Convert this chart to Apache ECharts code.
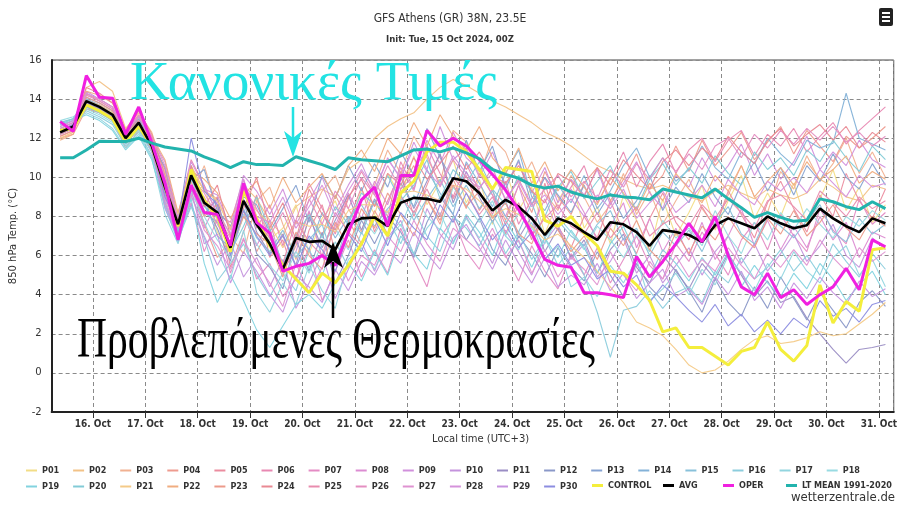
<!DOCTYPE html>
<html><head><meta charset="utf-8">
<script src="https://cdn.jsdelivr.net/npm/echarts@6/dist/echarts.min.js"></script>
<style>html,body{margin:0;padding:0;background:#fff}#c{width:900px;height:506px}</style>
</head><body><div id="c"></div>
<script>
// ---- data ----
const initTime = '2024-10-15T00:00Z';
const stepHours = 6, nSteps = 64, utcOffset = 3;
const memberNames = ['P01','P02','P03','P04','P05','P06','P07','P08','P09','P10','P11','P12','P13','P14','P15','P16','P17','P18','P19','P20','P21','P22','P23','P24','P25','P26','P27','P28','P29','P30'];
const P01=[12.1,12.4,13.7,13.5,13.1,11.8,12.6,11.5,10.3,7.8,9.1,9.6,7.2,6.1,8.0,8.9,6.8,7.4,8.6,6.1,7.9,8.8,7.0,9.4,8.1,10.2,9.0,11.1,8.6,9.8,10.9,8.7,9.9,7.6,10.4,8.3,9.5,7.1,8.8,9.9,7.4,8.5,6.6,9.1,7.8,6.2,8.9,7.0,8.2,9.6,7.3,8.8,10.1,7.9,9.2,8.0,9.7,7.6,8.9,10.4,8.3,9.5,7.7,8.6];
const P02=[12.0,12.3,14.6,14.9,14.4,12.5,13.3,12.3,10.2,7.9,10.6,9.3,8.9,7.3,9.6,8.9,7.8,7.0,8.5,9.0,9.4,9.0,10.4,10.9,12.0,12.6,13.0,13.3,14.0,14.6,15.0,14.7,14.3,13.9,13.6,13.2,12.8,12.3,12.0,11.6,11.1,10.6,10.3,9.9,9.6,9.4,9.6,9.3,9.0,8.8,9.3,9.6,9.2,8.9,9.4,9.1,8.9,9.2,9.9,9.5,9.0,8.8,9.6,9.4];
const P03=[12.2,12.5,14.2,14.0,13.6,12.3,12.9,11.8,9.1,7.2,9.0,10.6,8.4,7.0,6.1,8.8,9.5,7.6,5.8,7.9,9.3,10.1,8.4,7.2,9.6,11.4,10.2,12.1,11.0,9.7,12.4,11.8,10.1,12.0,11.3,9.6,10.8,9.2,8.3,10.1,9.0,7.7,8.6,10.2,8.1,9.3,7.6,8.8,9.9,8.4,7.5,9.1,10.6,9.0,8.2,10.3,9.4,11.1,9.8,10.7,12.0,10.2,11.3,10.0];
const P04=[12.0,12.2,13.5,13.3,12.9,11.5,12.4,11.3,8.7,7.0,9.8,7.6,5.9,6.8,8.3,6.2,7.4,5.1,6.5,8.2,7.0,9.1,7.8,6.6,8.3,7.1,9.4,10.6,8.9,7.6,9.9,8.4,10.2,9.1,7.8,9.6,8.2,10.3,9.0,8.1,9.7,10.5,8.8,9.9,11.2,9.4,10.1,11.6,10.3,11.9,10.6,11.4,12.3,10.9,11.8,12.6,11.2,12.4,11.6,10.8,12.1,11.5,12.0,12.6];
const P05=[12.4,12.7,14.0,13.7,13.3,12.1,12.9,11.7,9.9,7.5,9.4,8.1,9.0,5.4,7.2,9.1,5.9,6.8,4.7,7.3,8.6,6.2,7.7,9.5,7.2,8.8,10.3,8.0,9.6,11.2,8.9,10.1,8.3,9.4,7.1,8.6,6.8,9.7,7.5,6.4,8.0,6.9,8.8,7.2,6.1,7.9,9.2,7.7,6.8,8.5,7.4,9.3,8.1,6.9,8.7,9.8,8.4,7.2,9.1,8.0,10.2,8.8,7.9,9.4];
const P06=[12.5,12.8,14.3,13.9,13.5,12.2,13.1,11.9,10.4,8.1,10.9,9.6,8.1,7.7,9.9,7.4,8.6,6.5,7.8,9.7,8.4,7.1,8.9,10.3,9.1,8.0,10.8,9.4,11.6,10.2,9.0,10.7,9.3,8.1,9.8,7.6,8.9,10.0,8.4,9.5,10.6,8.7,9.9,11.3,9.5,10.8,11.7,10.2,11.4,12.0,10.8,11.9,12.4,11.1,12.2,11.6,12.5,11.3,12.1,12.8,11.7,12.4,13.0,13.6];
const P07=[12.3,12.6,13.8,13.5,13.1,11.9,12.7,11.5,9.0,7.3,8.7,6.2,7.9,5.1,6.9,4.8,5.6,3.9,4.8,6.4,3.7,5.2,6.8,4.9,6.3,5.1,7.4,5.8,4.4,6.9,7.9,6.2,5.3,7.1,6.0,4.7,6.5,5.2,4.3,6.1,5.0,6.4,4.6,5.8,7.0,5.5,4.8,6.6,5.7,7.2,6.1,5.0,6.8,7.7,6.3,8.1,7.0,6.2,8.4,7.3,6.6,8.9,7.6,8.2];
const P08=[12.1,12.4,13.6,13.3,13.0,11.7,12.5,11.3,9.5,7.1,9.6,7.4,8.8,6.0,8.1,6.5,7.8,5.3,6.2,8.3,5.9,7.5,9.2,7.9,9.8,8.6,10.5,9.3,11.9,10.7,12.3,11.0,10.4,9.1,8.0,9.6,7.4,8.9,7.3,9.4,8.2,6.8,7.5,8.7,6.4,7.9,6.2,7.4,6.0,7.7,5.8,7.0,8.4,6.5,7.8,6.3,7.5,6.4,8.0,6.8,7.7,5.9,7.2,6.9];
const P09=[12.6,12.9,14.4,14.0,13.6,12.3,13.1,12.0,10.8,8.0,10.2,9.4,9.1,7.4,10.1,9.3,8.1,9.4,7.6,8.8,10.0,8.3,9.6,10.7,9.2,11.0,9.9,11.8,10.4,12.6,10.9,11.5,10.0,11.3,9.6,10.8,9.2,10.5,8.7,9.9,9.1,10.4,8.6,9.7,10.8,9.2,8.4,10.1,9.5,11.0,9.8,10.6,11.7,10.1,11.2,9.9,10.8,12.1,10.4,11.3,10.6,11.9,10.9,10.5];
const P10=[12.2,12.5,13.7,13.4,12.9,11.8,12.6,11.4,8.4,6.9,8.6,7.0,5.5,6.7,4.9,5.9,4.4,5.8,3.3,4.6,6.1,3.8,5.3,6.7,5.2,6.9,7.8,6.0,8.4,7.1,6.3,8.0,6.8,5.6,7.3,6.2,5.0,6.7,7.6,5.8,6.6,4.9,5.7,6.9,5.1,6.0,4.6,5.5,6.4,5.0,6.2,7.0,5.6,6.6,5.2,6.1,7.1,5.7,6.5,7.6,6.0,5.4,6.9,6.3];
const P11=[12.4,12.7,13.9,13.6,13.2,12.0,12.7,11.6,10.0,7.6,10.6,8.1,8.9,6.3,9.4,7.2,6.1,7.0,5.5,8.0,6.4,7.8,9.1,7.3,8.9,7.5,10.0,8.4,9.8,11.2,8.7,10.3,9.0,7.7,8.8,6.9,8.0,6.2,7.4,5.9,6.8,5.1,6.3,7.1,5.4,4.6,6.0,5.2,4.3,5.6,4.8,6.1,5.0,3.9,4.7,3.6,3.9,2.8,2.0,1.2,0.5,1.2,1.3,1.45];
const P12=[12.3,12.6,13.8,13.5,13.1,11.9,12.7,11.5,9.2,7.5,10.0,8.6,7.4,5.7,8.9,6.1,5.4,4.3,6.8,5.2,7.2,4.6,6.0,7.8,6.6,8.0,7.2,5.9,7.7,9.0,8.1,6.8,7.9,6.3,5.5,7.0,6.1,4.9,6.4,5.4,4.7,6.2,5.0,3.9,5.6,4.4,3.7,5.3,4.2,3.1,4.8,3.6,2.9,4.4,3.3,4.9,3.8,2.7,4.1,3.2,2.3,3.6,4.2,3.4];
const P13=[12.5,12.8,14.1,13.8,13.4,12.2,13.0,11.8,10.5,7.7,9.9,10.4,8.3,7.5,9.0,8.6,7.2,8.4,9.6,7.7,10.1,8.9,10.6,9.3,10.7,9.5,11.3,10.1,12.5,11.0,9.8,11.9,10.3,11.6,9.4,10.9,8.6,10.0,9.1,8.2,9.6,8.1,9.2,7.9,8.8,10.1,8.3,9.5,8.7,10.2,9.0,8.1,9.7,10.8,9.3,10.5,9.1,10.6,9.8,11.2,10.0,9.4,10.7,9.6];
const P14=[12.2,12.5,13.6,13.4,13.0,11.8,12.5,11.4,9.8,7.3,9.3,8.9,7.0,6.4,8.7,7.8,6.7,5.5,7.1,6.3,8.2,6.9,8.0,7.1,8.8,7.6,9.7,8.5,10.4,9.2,8.1,10.8,9.7,8.5,10.2,11.4,9.0,8.3,9.6,8.7,10.1,8.4,9.3,10.6,11.5,10.0,11.0,9.8,10.4,11.6,10.5,9.9,11.3,10.7,12.0,11.2,10.6,11.9,11.5,11.75,14.3,12.0,11.7,11.4];
const P15=[12.7,13.0,14.0,13.7,13.3,12.1,12.8,11.7,9.3,7.6,10.1,8.2,7.7,6.6,8.4,6.9,6.2,7.3,5.9,6.8,7.6,5.5,7.9,8.6,7.5,8.4,9.1,7.8,8.9,9.9,8.5,9.6,8.4,9.3,8.0,7.2,8.7,6.9,7.8,7.0,6.5,7.6,8.3,6.8,7.4,6.0,7.2,6.5,7.3,6.2,7.7,8.5,7.1,6.6,8.0,7.5,6.9,7.8,8.6,7.2,6.7,7.9,7.1,7.6];
const P16=[12.8,13.0,13.4,13.1,12.7,11.6,12.3,11.1,8.8,6.8,8.5,6.9,4.7,5.6,6.6,5.0,3.9,5.1,4.2,6.3,5.0,6.7,5.4,7.2,6.0,7.9,6.6,8.3,7.0,6.2,8.0,7.4,6.5,7.8,6.1,7.2,5.8,6.9,5.5,6.4,5.0,3.1,0.8,3.2,3.4,4.2,3.3,4.1,4.4,3.6,5.2,4.6,5.9,4.8,5.4,6.3,5.2,6.0,5.0,6.6,5.7,4.9,6.1,5.3];
const P17=[12.6,12.9,13.3,13.0,12.5,11.5,12.2,11.0,8.1,6.6,9.0,7.7,6.2,4.8,7.3,4.1,3.1,4.6,3.5,5.5,4.2,3.3,5.8,6.4,5.3,6.8,7.6,6.1,7.4,8.2,6.7,7.9,6.9,8.1,7.0,6.3,7.7,5.8,6.5,4.4,4.9,3.9,5.5,4.6,5.8,3.7,4.3,5.1,4.0,5.3,4.5,6.0,5.1,4.2,5.6,4.8,6.2,5.2,4.6,5.9,6.5,5.0,5.8,4.4];
const P18=[12.9,13.1,13.5,13.2,12.8,11.8,12.4,11.3,9.4,7.1,9.2,8.0,6.8,5.9,8.1,6.6,5.5,4.7,6.2,5.1,6.6,7.4,6.3,8.0,7.1,8.3,7.5,9.1,8.0,7.3,9.5,8.6,7.7,8.8,7.0,8.2,7.4,6.6,8.0,7.2,6.3,7.5,6.8,5.9,7.1,6.2,7.8,6.9,7.4,6.5,8.3,7.0,6.1,7.7,6.8,8.2,7.3,8.4,7.6,6.9,8.0,7.5,8.3,7.8];
const P19=[12.7,12.9,13.2,12.9,12.4,11.4,12.1,10.9,8.5,6.7,8.9,5.6,3.6,5.0,3.7,2.2,1.3,2.4,3.5,4.0,3.3,4.6,5.6,4.7,6.2,5.0,7.0,6.1,5.3,7.4,6.6,8.1,7.2,6.0,7.8,6.7,5.4,6.9,5.9,7.3,6.4,5.1,6.6,7.5,6.0,4.9,6.3,5.6,4.7,5.9,5.0,6.2,4.4,5.5,4.6,3.9,5.1,4.3,5.6,4.8,3.7,4.5,5.2,4.0];
const P20=[12.8,13.0,13.6,13.3,12.9,11.7,12.5,11.4,9.6,7.2,9.9,8.5,7.9,6.2,7.5,9.0,7.3,5.6,7.0,8.1,6.9,8.5,7.6,9.2,8.6,10.1,8.8,9.6,10.9,8.9,10.4,9.7,10.8,9.4,8.6,10.1,9.3,8.0,9.5,10.3,8.9,9.8,10.6,9.1,8.4,9.9,10.7,9.6,10.5,9.7,11.1,10.2,9.6,11.3,10.4,11.0,10.1,11.4,10.8,11.9,11.0,10.3,11.6,10.9];
const P21=[12.0,12.3,13.9,13.7,13.3,11.9,12.8,11.9,10.0,8.1,10.5,9.3,8.8,7.4,9.2,8.3,7.6,6.4,7.7,7.5,7.6,7.2,8.3,8.6,8.6,8.2,9.2,9.3,9.1,8.8,9.6,9.4,8.8,8.0,8.4,8.1,7.5,6.8,7.1,6.5,5.9,5.2,4.4,3.6,2.6,2.3,1.9,1.2,0.4,0.0,0.15,0.6,1.2,1.7,1.9,1.5,1.6,1.8,2.1,1.9,2.0,2.5,3.0,3.6];
const P22=[11.9,12.2,14.4,14.2,13.8,12.4,13.2,12.1,10.9,8.2,10.3,9.9,9.2,7.9,9.1,9.8,8.4,10.0,8.7,9.5,10.2,8.9,10.6,11.4,10.3,12.0,11.2,12.8,11.6,13.2,12.1,11.4,12.6,11.0,10.2,11.5,9.7,10.8,9.3,10.4,9.5,8.6,10.0,9.2,8.3,9.7,8.8,10.2,9.4,8.7,10.1,9.3,10.6,9.0,9.8,10.5,9.6,10.8,9.9,10.4,11.1,9.7,10.3,9.9];
const P23=[12.1,12.4,14.1,13.8,13.4,12.1,13.1,12.0,9.4,7.5,10.4,8.0,8.6,6.4,8.0,7.1,6.6,4.9,7.2,6.0,5.3,7.7,6.4,8.4,7.4,9.2,8.1,7.0,8.9,7.8,9.6,8.5,9.3,7.9,8.7,7.1,6.6,8.1,7.3,6.2,7.0,5.8,7.4,6.5,7.8,6.3,5.6,7.2,6.1,7.5,6.8,8.0,7.0,6.4,7.9,7.1,8.3,7.0,7.7,8.6,7.4,6.8,8.0,7.5];
const P24=[12.3,12.6,14.6,14.3,13.8,12.4,13.4,12.2,10.1,7.7,10.6,8.5,9.6,7.0,8.4,10.0,7.4,8.7,6.8,9.4,8.1,7.3,9.0,9.9,8.5,10.2,9.6,11.0,9.9,10.7,11.6,10.4,11.3,10.1,9.7,10.6,9.3,8.7,10.2,9.8,9.0,10.5,9.6,10.9,10.1,9.4,10.8,11.4,10.6,11.5,10.9,12.1,11.3,10.7,11.9,12.5,11.6,12.2,12.7,11.9,12.6,11.5,12.3,11.8];
const P25=[12.2,12.5,13.8,13.5,13.1,11.9,12.8,11.6,9.7,7.4,9.5,9.0,7.6,6.5,8.8,7.7,6.9,5.6,7.8,6.7,6.0,8.2,7.2,6.5,8.0,7.0,9.0,8.2,9.4,8.0,10.0,9.2,8.1,9.0,7.6,8.7,7.0,7.9,8.6,7.5,7.1,8.2,6.9,7.7,8.5,7.0,7.6,8.0,7.5,8.6,7.9,8.9,8.2,7.4,8.8,9.1,8.5,7.8,9.3,8.7,8.0,9.0,8.4,8.8];
const P26=[12.4,12.7,14.2,13.9,13.5,12.3,13.2,12.1,10.6,7.8,10.0,9.2,8.0,6.9,9.5,8.4,7.0,8.2,6.6,8.9,7.6,9.3,8.4,10.0,9.1,10.6,9.4,10.1,11.2,9.5,10.9,10.0,9.4,10.5,8.8,9.9,8.6,9.4,10.1,9.0,9.8,8.9,10.4,9.5,10.7,9.9,11.0,10.3,11.2,10.4,11.6,12.0,11.0,12.2,11.5,12.4,11.7,12.5,11.9,12.6,11.8,12.3,11.6,12.1];
const P27=[12.5,12.8,13.9,13.6,13.2,12.0,12.8,11.6,8.9,7.0,9.1,7.3,6.5,5.3,6.8,5.6,4.6,3.4,5.6,4.1,5.4,6.3,4.7,6.0,5.5,7.0,6.2,7.8,6.6,5.7,7.4,6.8,6.2,7.4,5.9,6.8,5.1,6.3,4.9,5.9,5.3,4.5,6.2,5.0,4.2,5.7,4.8,6.0,4.9,5.8,5.2,6.4,5.5,4.8,6.1,5.4,6.3,5.5,6.8,5.9,5.2,6.4,5.7,6.2];
const P28=[12.6,12.9,14.3,14.0,13.6,12.3,13.1,11.9,10.0,7.9,10.8,9.5,8.2,7.1,9.9,8.0,7.7,9.0,7.4,8.5,9.6,8.0,9.3,10.4,9.4,10.9,10.0,11.5,10.3,9.6,11.1,10.2,9.5,10.2,8.9,9.8,8.5,9.1,8.1,8.9,8.0,9.1,8.4,9.4,7.9,8.7,9.3,8.2,8.8,9.6,8.5,9.9,9.1,8.6,9.8,9.3,10.0,9.2,10.4,9.7,9.0,10.1,9.5,9.7];
const P29=[12.3,12.6,13.7,13.4,13.0,11.8,12.6,11.4,8.6,6.9,9.4,6.6,7.1,4.6,6.2,5.2,4.0,3.1,5.0,4.4,3.6,5.3,4.2,5.7,5.0,6.3,5.6,7.2,6.1,5.3,6.9,7.6,6.4,5.3,6.8,5.6,4.6,5.9,4.4,5.0,4.5,5.6,4.2,5.1,3.8,4.6,5.3,3.9,4.3,3.5,4.9,4.0,5.2,3.7,4.4,3.3,4.6,3.8,4.9,4.1,3.5,4.7,3.9,4.3];
const P30=[12.4,12.7,13.8,13.5,13.1,12.0,12.8,11.6,9.0,7.6,12.0,9.3,8.6,6.0,8.3,7.0,6.0,7.1,5.4,7.0,6.3,5.2,7.1,6.2,7.9,6.5,8.2,7.4,6.8,8.6,7.7,9.2,8.0,6.8,7.6,6.4,7.2,5.8,6.6,5.5,5.9,4.8,5.3,4.4,5.0,3.6,4.5,3.9,3.2,2.6,3.5,2.4,3.0,2.1,2.7,2.0,2.8,2.3,3.7,2.9,3.3,2.6,3.5,3.7];
const CONTROL=[12.4,12.5,13.7,13.4,13.0,11.8,12.6,11.6,9.5,7.5,10.4,8.8,8.0,6.2,9.3,7.9,6.5,5.5,4.8,4.1,5.1,4.6,5.5,6.6,8.0,7.0,9.2,9.8,11.3,11.8,11.8,11.3,10.4,9.4,10.5,10.4,10.3,7.8,7.5,8.0,7.15,6.5,5.2,5.1,4.5,3.7,2.1,2.3,1.3,1.3,0.85,0.4,1.1,1.3,2.6,1.2,0.6,1.4,4.5,2.55,3.65,3.15,6.3,6.4];
const AVG=[12.3,12.6,13.9,13.6,13.2,12.0,12.8,11.6,9.5,7.6,10.1,8.7,8.2,6.4,8.8,7.6,6.6,5.3,6.9,6.7,6.75,6.3,7.6,7.9,7.95,7.5,8.7,8.95,8.9,8.75,9.95,9.8,9.2,8.3,8.85,8.5,7.9,7.05,7.9,7.65,7.2,6.8,7.7,7.6,7.2,6.5,7.3,7.2,7.05,6.7,7.55,7.9,7.65,7.4,8.0,7.65,7.4,7.55,8.4,7.9,7.5,7.2,7.9,7.65];
const OPER=[12.85,12.35,15.2,14.1,14.05,12.2,13.6,11.75,9.7,6.8,9.6,8.2,8.1,6.5,9.7,7.7,7.15,5.2,5.45,5.6,6.0,5.5,7.2,8.85,9.5,7.5,10.1,10.1,12.4,11.6,12.0,11.6,10.9,10.15,9.35,8.35,7.15,5.8,5.5,5.4,4.1,4.1,4.0,3.85,5.95,4.9,5.7,6.6,7.65,6.7,8.0,6.0,4.4,4.0,5.1,3.85,4.25,3.5,4.0,4.4,5.35,4.25,6.8,6.45];
const LTMEAN=[11.0,11.0,11.4,11.85,11.83,11.83,12.0,11.75,11.55,11.45,11.35,11.05,10.8,10.5,10.8,10.65,10.65,10.6,11.05,10.85,10.65,10.4,11.0,10.9,10.85,10.8,11.1,11.4,11.45,11.3,11.5,11.25,10.95,10.4,10.15,9.95,9.6,9.45,9.55,9.25,9.05,8.9,9.1,9.0,8.95,8.85,9.4,9.25,9.1,8.95,9.4,8.9,8.45,7.95,8.2,7.95,7.75,7.8,8.9,8.75,8.5,8.35,8.75,8.4];
const members = [P01,P02,P03,P04,P05,P06,P07,P08,P09,P10,P11,P12,P13,P14,P15,P16,P17,P18,P19,P20,P21,P22,P23,P24,P25,P26,P27,P28,P29,P30];
const memberColors = ['#f2dd86','#f2c287','#f1b191','#ee9b8f','#eb8c9f','#e888b2','#e48bc4','#dc8cd2','#d190dc','#c493dd','#9a8dc4','#8a98c8','#86a3d2','#84b2d8','#88c1da','#8ccddd','#92d5df','#98dbe2','#82d3df','#82cbd6','#f4ca88','#f0ad80','#ec9a8a','#e98993','#e88cae','#e48ec1','#df92d1','#d592db','#c692df','#8c8de0'];

// ---- chart ----
const HOUR = 3600e3;
const t0 = Date.parse(initTime);
const times = [];
for (let i = 0; i < nSteps; i++) times.push(t0 + ((i + 1) * stepHours + utcOffset) * HOUR);
const pts = arr => arr.map((v, i) => [times[i], v]);

const chart = echarts.init(document.getElementById('c'), null, {renderer: 'canvas'});
const narrow = '"Liberation Sans Narrow","DejaVu Sans Condensed","Arial Narrow",sans-serif';

const series = [];
members.forEach((m, k) => series.push({
  name: memberNames[k], type: 'line', data: pts(m), symbol: 'none', color: memberColors[k],
  lineStyle: {width: 1.1, opacity: 0.95}, z: 2
}));
series.push({name: 'CONTROL', type: 'line', data: pts(CONTROL), symbol: 'none', color: '#f4ee3c', lineStyle: {width: 3}, z: 3});
series.push({name: 'AVG', type: 'line', data: pts(AVG), symbol: 'none', color: '#000000', lineStyle: {width: 2.6}, z: 4});
series.push({name: 'OPER', type: 'line', data: pts(OPER), symbol: 'none', color: '#f020e0', lineStyle: {width: 3}, z: 5});
series.push({name: 'LT MEAN 1991-2020', type: 'line', data: pts(LTMEAN), symbol: 'none', color: '#22b3ad', lineStyle: {width: 3}, z: 6});

const legendBase = {icon: 'rect', itemWidth: 11, itemHeight: 2, padding: 0, selectedMode: false,
  textStyle: {fontSize: 9, fontWeight: 'bold', color: '#333', fontFamily: narrow}};
const legends = [];
memberNames.forEach((n, k) => {
  const row = k < 18 ? 0 : 1, col = row ? k - 18 : k;
  legends.push(Object.assign({}, legendBase, {data: [n], left: 26 + 47.1 * col, top: row ? 482 : 466}));
});
[['CONTROL', 592], ['AVG', 663], ['OPER', 723], ['LT MEAN 1991-2020', 786]].forEach(([n, x]) => {
  legends.push(Object.assign({}, legendBase, {data: [n], left: x, top: 481, itemHeight: 3}));
});

// text scaling helper for annotations
const ctx = document.createElement('canvas').getContext('2d');
function widthOf(txt, font) { ctx.font = font; return ctx.measureText(txt).width; }
const serif = '"Liberation Serif","DejaVu Serif",serif';
const txt1 = 'Κανονικές Τιμές', txt2 = 'Προβλεπόμενες Θερμοκρασίες';
const f1 = 'normal 55px ' + serif, f2 = 'normal 56px ' + serif;
const s1 = 367 / widthOf(txt1, f1), s2 = 518 / widthOf(txt2, f2);

chart.setOption({
  animation: false,
  useUTC: true,
  backgroundColor: '#ffffff',
  title: {
    text: 'GFS Athens (GR) 38N, 23.5E', left: 'center', top: 8, itemGap: 10,
    textStyle: {fontSize: 12, fontWeight: 'normal', color: '#333', fontFamily: narrow},
    subtext: 'Init: Tue, 15 Oct 2024, 00Z',
    subtextStyle: {fontSize: 9.5, fontWeight: 'bold', color: '#333', fontFamily: narrow}
  },
  legend: legends,
  grid: {left: 48, right: 5, top: 60, bottom: 94, show: true, borderColor: '#444', borderWidth: 1, containLabel: false},
  xAxis: {
    type: 'time',
    min: Date.parse('2024-10-15T05:06Z'), max: Date.parse('2024-10-31T06:48Z'),
    minInterval: 24 * HOUR, maxInterval: 24 * HOUR,
    axisLine: {show: true, onZero: false, lineStyle: {color: '#222', width: 2}},
    axisTick: {show: true, length: 6, lineStyle: {color: '#333', width: 1}},
    axisLabel: {
      color: '#333', fontSize: 10, fontWeight: 'bold', fontFamily: narrow, margin: 7,
      formatter: v => new Date(v).getUTCDate() + '. Oct', hideOverlap: false
    },
    splitLine: {show: true, lineStyle: {color: '#8a8a8a', type: [4, 3], width: 1}}
  },
  yAxis: {
    type: 'value', min: -2, max: 16, interval: 2,
    name: '850 hPa Temp. (°C)', nameLocation: 'middle', nameGap: 28, nameRotate: 90,
    nameTextStyle: {fontSize: 10, color: '#333', fontFamily: '"DejaVu Sans",sans-serif'},
    axisLine: {show: true, lineStyle: {color: '#222', width: 2}},
    axisTick: {show: false},
    axisLabel: {color: '#333', fontSize: 10, margin: 10, fontFamily: '"DejaVu Sans",sans-serif'},
    splitLine: {show: true, lineStyle: {color: '#8a8a8a', type: [4, 3], width: 1}}
  },
  series: series,
  graphic: [
    {type: 'text', x: 432, top: 434, z: 10,
     style: {text: 'Local time (UTC+3)', font: '10px "DejaVu Sans",sans-serif', fill: '#333'}},
    {type: 'text', right: 5, top: 491, z: 10,
     style: {text: 'wetterzentrale.de', font: '13px "DejaVu Sans Condensed","DejaVu Sans",sans-serif', fill: '#333'}},
    {type: 'group', x: 879, y: 8, z: 20, children: [
      {type: 'rect', shape: {x: 0, y: 0, width: 14, height: 18, r: 2}, style: {fill: '#222'}},
      {type: 'rect', shape: {x: 3, y: 4, width: 8, height: 2}, style: {fill: '#fff'}},
      {type: 'rect', shape: {x: 3, y: 8, width: 8, height: 2}, style: {fill: '#fff'}},
      {type: 'rect', shape: {x: 3, y: 12, width: 8, height: 2}, style: {fill: '#fff'}}
    ]},
    {type: 'text', x: 130, y: 85, scaleX: s1, z: 30,
     style: {text: txt1, font: f1, fill: '#22e3e3', verticalAlign: 'middle', align: 'left'}},
    {type: 'line', z: 30, shape: {x1: 293, y1: 107, x2: 293, y2: 140}, style: {stroke: '#22e3e3', lineWidth: 2.5}},
    {type: 'polygon', z: 30, shape: {points: [[284, 131], [293, 138], [302, 131], [293, 157]]}, style: {fill: '#22e3e3'}},
    {type: 'text', x: 77, y: 342, scaleX: s2, z: 30,
     style: {text: txt2, font: f2, fill: '#000', verticalAlign: 'middle', align: 'left'}},
    {type: 'line', z: 30, shape: {x1: 333, y1: 318, x2: 333, y2: 262}, style: {stroke: '#000', lineWidth: 2.5}},
    {type: 'polygon', z: 30, shape: {points: [[333, 242], [343, 268], [333, 261], [324, 268]]}, style: {fill: '#000'}}
  ]
});
</script>
</body></html>
